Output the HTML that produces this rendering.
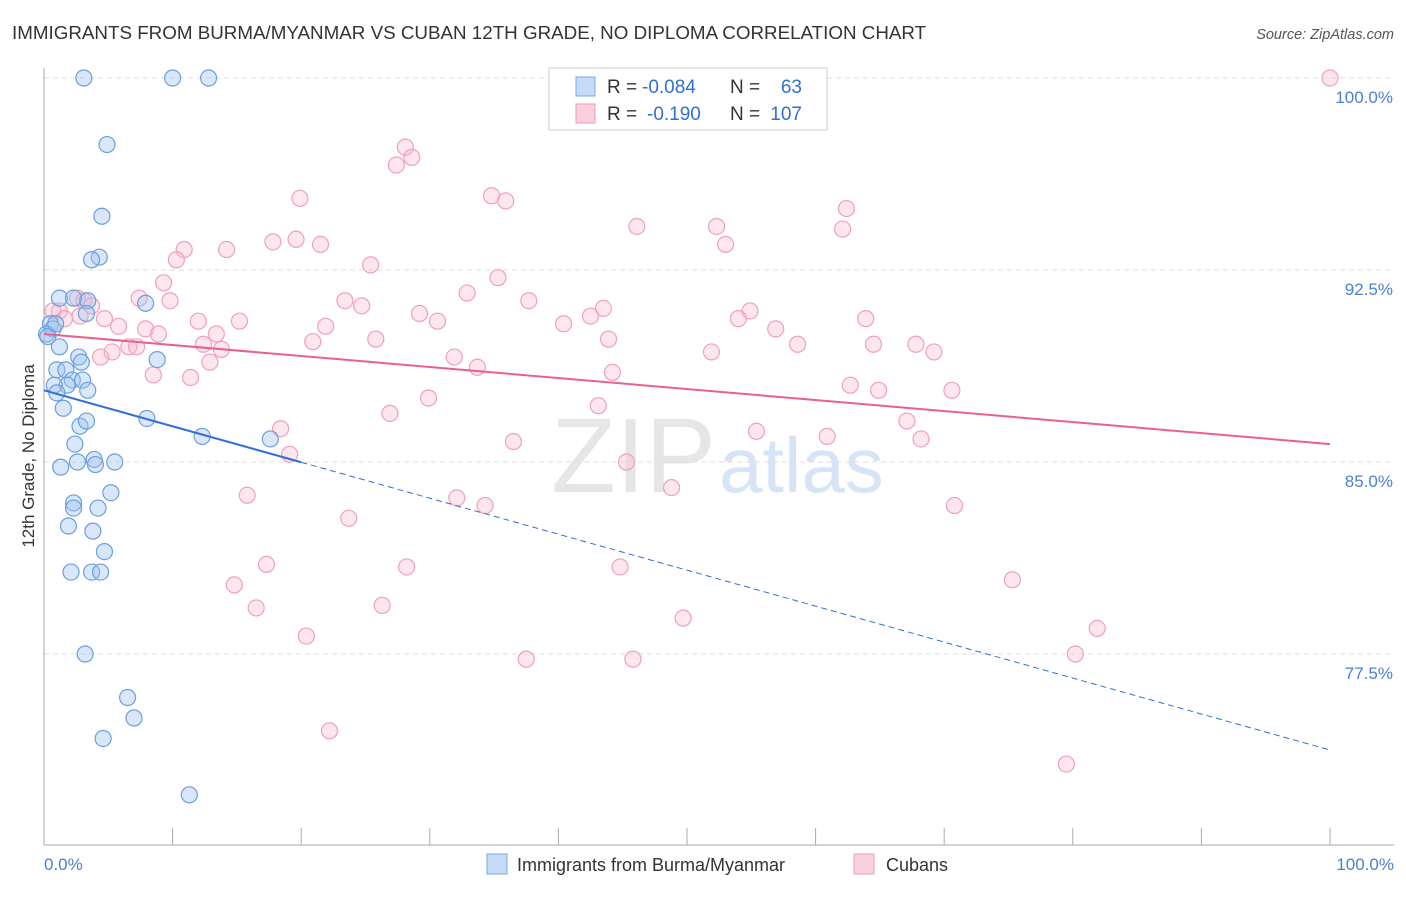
<!DOCTYPE html>
<html><head><meta charset="utf-8"><style>
body{margin:0;background:#fff;font-family:"Liberation Sans",sans-serif;}
svg text{font-family:"Liberation Sans",sans-serif;}
</style></head><body>
<svg id="chart" width="1406" height="892">
<text x="12" y="39" font-size="18.8" fill="#333">IMMIGRANTS FROM BURMA/MYANMAR VS CUBAN 12TH GRADE, NO DIPLOMA CORRELATION CHART</text>
<text x="1394" y="39" font-size="14.5" fill="#555" text-anchor="end" font-style="italic">Source: ZipAtlas.com</text>
<text x="716" y="492" font-size="106" fill="#e6e6e6" text-anchor="end" font-family="Liberation Serif">ZIP</text>
<text x="719" y="492" font-size="78" fill="#d6e4f5">atlas</text>
<g id="grid"></g><g id="axes"></g><g id="pts"></g><g id="trend"></g>
<text transform="translate(34,456) rotate(-90)" font-size="17" fill="#333" text-anchor="middle">12th Grade, No Diploma</text>
<text x="44" y="870" font-size="17" fill="#4a7fd4">0.0%</text>
<text x="1394" y="870" font-size="17" fill="#4a7fd4" text-anchor="end">100.0%</text>
<g>
<rect x="549" y="68" width="278" height="62" fill="#fff" stroke="#ccc"/>
<rect x="576" y="77" width="19" height="19" fill="#c6dbf7" stroke="#7aa8e6"/>
<rect x="576" y="104" width="19" height="19" fill="#fbd0de" stroke="#ef9ab6"/>
<text x="607" y="93" font-size="19" fill="#333">R =</text>
<text x="642" y="93" font-size="19" fill="#2f6fd6">-0.084</text>
<text x="730" y="93" font-size="19" fill="#333">N =</text>
<text x="802" y="93" font-size="19" fill="#2f6fd6" text-anchor="end">63</text>
<text x="607" y="120" font-size="19" fill="#333">R =</text>
<text x="647" y="120" font-size="19" fill="#2f6fd6">-0.190</text>
<text x="730" y="120" font-size="19" fill="#333">N =</text>
<text x="802" y="120" font-size="19" fill="#2f6fd6" text-anchor="end">107</text>
</g>
<g>
<rect x="487" y="854" width="20" height="20" fill="#c6dbf7" stroke="#7aa8e6"/>
<text x="517" y="871" font-size="18" fill="#333">Immigrants from Burma/Myanmar</text>
<rect x="854" y="854" width="20" height="20" fill="#fbd0de" stroke="#ef9ab6"/>
<text x="886" y="871" font-size="18" fill="#333">Cubans</text>
</g>
</svg>
<script>
const yTicks=[100,92.5,85,77.5];
const yTickLabels=["100.0%","92.5%","85.0%","77.5%"];
const xTicks=[0,10,20,30,40,50,60,70,80,90,100];
const burmaX=[3.1,10.0,12.8,4.9,4.5,4.3,3.7,1.2,2.3,3.4,7.9,3.3,0.5,0.7,0.2,1.2,8.8,2.7,2.9,1.0,1.7,2.2,1.8,3.0,0.8,1.0,3.4,1.5,2.8,3.3,8.0,12.3,17.6,2.4,3.9,4.0,5.5,1.3,2.6,5.2,2.3,2.3,4.2,1.9,3.8,4.7,2.1,3.7,4.4,3.2,6.5,7.0,4.6,11.3,0.3,0.9];
const burmaY=[100,100,100,97.4,94.6,93.0,92.9,91.4,91.4,91.3,91.2,90.8,90.4,90.2,90.0,89.5,89.0,89.1,88.9,88.6,88.6,88.2,88.0,88.2,88.0,87.7,87.8,87.1,86.4,86.6,86.7,86.0,85.9,85.7,85.1,84.9,85.0,84.8,85.0,83.8,83.4,83.2,83.2,82.5,82.3,81.5,80.7,80.7,80.7,77.5,75.8,75.0,74.2,72.0,89.9,90.4];
const cubanX=[100,28.1,27.4,28.6,34.8,35.9,19.9,62.4,62.1,46.1,52.3,53.0,10.9,14.2,17.8,19.6,21.5,10.3,25.4,35.3,9.3,32.9,37.7,7.4,9.8,3.1,2.6,1.2,0.7,1.6,23.4,24.7,43.5,42.5,29.2,30.6,15.2,12.0,5.8,4.7,7.9,8.9,21.9,40.4,54.9,54.0,63.9,56.9,13.4,20.9,25.8,43.9,58.6,64.5,67.8,69.2,6.6,7.2,12.4,13.8,5.3,4.4,31.9,51.9,12.9,33.7,44.2,8.5,11.4,62.7,64.9,70.6,29.9,43.1,26.9,67.1,18.4,55.4,60.9,68.2,36.5,19.1,45.3,48.8,15.8,32.1,34.3,70.8,23.7,17.3,28.2,44.8,14.8,75.3,16.5,26.3,49.7,20.4,81.9,37.5,45.8,80.2,22.2,79.5,2.8,3.7];
const cubanY=[100,97.3,96.6,96.9,95.4,95.2,95.3,94.9,94.1,94.2,94.2,93.5,93.3,93.3,93.6,93.7,93.5,92.9,92.7,92.2,92.0,91.6,91.3,91.4,91.3,91.3,91.4,90.9,90.9,90.6,91.3,91.1,91.0,90.7,90.8,90.5,90.5,90.5,90.3,90.6,90.2,90.0,90.3,90.4,90.9,90.6,90.6,90.2,90.0,89.7,89.8,89.8,89.6,89.6,89.6,89.3,89.5,89.5,89.6,89.4,89.3,89.1,89.1,89.3,88.9,88.7,88.5,88.4,88.3,88.0,87.8,87.8,87.5,87.2,86.9,86.6,86.3,86.2,86.0,85.9,85.8,85.3,85.0,84.0,83.7,83.6,83.3,83.3,82.8,81.0,80.9,80.9,80.2,80.4,79.3,79.4,78.9,78.2,78.5,77.3,77.3,77.5,74.5,73.2,90.7,91.1];
const burmaTrend=[87.8,73.75];
const cubanTrend=[90.0,85.7];
const NS="http://www.w3.org/2000/svg";
const sx=v=>44+v*12.86, sy=v=>78+(100-v)*25.6;
function mk(p,t,a){const e=document.createElementNS(NS,t);for(const k in a)e.setAttribute(k,a[k]);document.getElementById(p).appendChild(e);return e;}
yTicks.forEach((t,i)=>{
 const l=mk('grid','line',{x1:44,x2:1394,y1:sy(t),y2:sy(t),stroke:'#ddd','stroke-dasharray':'5,4'});
 
 
 const tx=mk('grid','text',{x:1393,y:sy(t)+25,'font-size':17,fill:'#4a7fd4','text-anchor':'end'});
 tx.textContent=yTickLabels[i];
 
 
});
let a=mk('axes','line',{x1:44,x2:44,y1:68,y2:845,stroke:'#aaa'});


a=mk('axes','line',{x1:44,x2:1394,y1:845,y2:845,stroke:'#aaa'});


xTicks.forEach(t=>{
 const l=mk('axes','line',{x1:sx(t),x2:sx(t),y1:828,y2:845,stroke:'#aaa'});
 
 
});
cubanX.forEach((x,i)=>{
 const c=mk('pts','circle',{cx:sx(x),cy:sy(cubanY[i]),r:8,fill:'rgba(248,182,204,0.35)',stroke:'#f0a0bb','stroke-width':1.2});
 
 
});
burmaX.forEach((x,i)=>{
 const c=mk('pts','circle',{cx:sx(x),cy:sy(burmaY[i]),r:8,fill:'rgba(160,195,240,0.4)',stroke:'#6a9fe0','stroke-width':1.2});
 
 
});
const by=x=>burmaTrend[0]+(burmaTrend[1]-burmaTrend[0])*x/100;
let t=mk('trend','line',{x1:sx(20),y1:sy(by(20)),x2:sx(100),y2:sy(by(100)),stroke:'#2f6fd6','stroke-width':1,'stroke-dasharray':'6,4'});


t=mk('trend','line',{x1:sx(0),y1:sy(by(0)),x2:sx(20),y2:sy(by(20)),stroke:'#2f6fd6','stroke-width':2});


t=mk('trend','line',{x1:sx(0),y1:sy(cubanTrend[0]),x2:sx(100),y2:sy(cubanTrend[1]),stroke:'#e8608e','stroke-width':2});


</script>
</body></html>
